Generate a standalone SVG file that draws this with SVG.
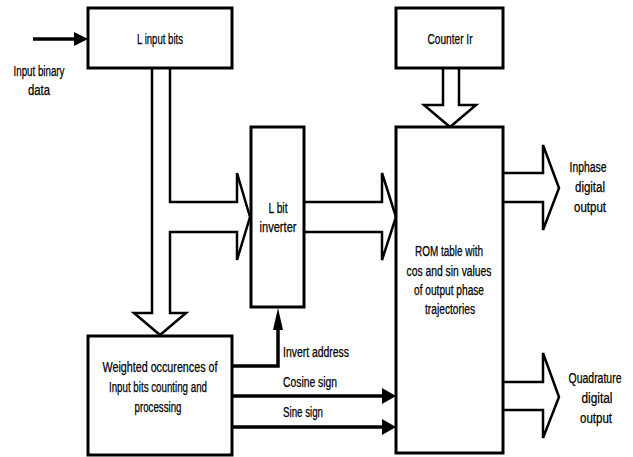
<svg xmlns="http://www.w3.org/2000/svg" width="633" height="457" viewBox="0 0 633 457">
<style>
.box{fill:#fff;stroke:#000;stroke-width:3}
.hol{fill:#fff;stroke:#000;stroke-width:2.5;stroke-linejoin:miter}
.ln{fill:none;stroke:#000;stroke-width:3.5}
.hd{fill:#000;stroke:none}
text{font-family:"Liberation Sans",Arial,sans-serif;font-size:14px;fill:#000;text-anchor:middle;stroke:#000;stroke-width:0.25}
.l{text-anchor:start}
</style>
<rect width="633" height="457" fill="#fff"/>
<g id="connectors">
<polyline class="hol" points="443,68 443,105 424,105 450,127 476,105 459,105 459,68"/>
<polyline class="hol" points="152,68 152,313 134,313 160,335 186,313 170,313 170,232 237,232 237,260 250,217 237,173 237,202 170,202 170,68"/>
<polyline class="hol" points="304,202 382,202 382,173 396,217 382,260 382,232 304,232"/>
<polyline class="hol" points="503,173 543,173 543,145 559,188 543,230 543,202 503,202"/>
<polyline class="hol" points="503,382 543,382 543,353 559,397 543,438 543,410 503,410"/>
<line class="ln" x1="33" y1="39" x2="76" y2="39" stroke-width="4"/>
<polygon class="hd" points="74,32 88,39 74,46"/>
<polyline class="ln" points="232,366 278,366 278,328" stroke-width="3"/>
<polygon class="hd" points="273,330 278,308 283,330"/>
<line class="ln" x1="232" y1="396" x2="384" y2="396"/>
<polygon class="hd" points="382,388 396,396 382,404"/>
<line class="ln" x1="232" y1="427" x2="384" y2="427"/>
<polygon class="hd" points="382,419 396,427 382,435"/>
</g>
<g id="input-label">
<text x="39" y="76" textLength="51" lengthAdjust="spacingAndGlyphs">Input binary</text>
<text x="39" y="95" textLength="22" lengthAdjust="spacingAndGlyphs">data</text>
</g>
<g id="l-input-bits">
<rect class="box" x="88" y="8" width="144" height="60"/>
<text x="160" y="44" textLength="46" lengthAdjust="spacingAndGlyphs">L input bits</text>
</g>
<g id="counter-ir">
<rect class="box" x="396" y="8" width="107" height="60"/>
<text x="450" y="44" textLength="45" lengthAdjust="spacingAndGlyphs">Counter Ir</text>
</g>
<g id="l-bit-inverter">
<rect class="box" x="251" y="127" width="53" height="180"/>
<text x="278" y="213" textLength="19" lengthAdjust="spacingAndGlyphs">L bit</text>
<text x="278" y="232" textLength="37" lengthAdjust="spacingAndGlyphs">inverter</text>
</g>
<g id="rom-table">
<rect class="box" x="396" y="127" width="107" height="326"/>
<text x="449" y="256" textLength="68" lengthAdjust="spacingAndGlyphs">ROM table with</text>
<text x="449" y="276" textLength="85" lengthAdjust="spacingAndGlyphs">cos and sin values</text>
<text x="449" y="295" textLength="70" lengthAdjust="spacingAndGlyphs">of output phase</text>
<text x="450" y="314" textLength="50" lengthAdjust="spacingAndGlyphs">trajectories</text>
</g>
<g id="weighted">
<rect class="box" x="88" y="336" width="144" height="119"/>
<text x="160" y="372" textLength="115" lengthAdjust="spacingAndGlyphs">Weighted occurences of</text>
<text x="158" y="392" textLength="98" lengthAdjust="spacingAndGlyphs">Input bits counting and</text>
<text x="158" y="412" textLength="47" lengthAdjust="spacingAndGlyphs">processing</text>
</g>
<g id="signal-labels">
<text class="l" x="283" y="357" textLength="66" lengthAdjust="spacingAndGlyphs">Invert address</text>
<text class="l" x="283" y="387" textLength="54" lengthAdjust="spacingAndGlyphs">Cosine sign</text>
<text class="l" x="283" y="417" textLength="40" lengthAdjust="spacingAndGlyphs">Sine sign</text>
</g>
<g id="inphase-output">
<text x="588" y="172" textLength="37" lengthAdjust="spacingAndGlyphs">Inphase</text>
<text x="590" y="192" textLength="30" lengthAdjust="spacingAndGlyphs">digital</text>
<text x="590" y="212" textLength="32" lengthAdjust="spacingAndGlyphs">output</text>
</g>
<g id="quadrature-output">
<text x="595" y="383" textLength="53" lengthAdjust="spacingAndGlyphs">Quadrature</text>
<text x="597" y="403" textLength="31" lengthAdjust="spacingAndGlyphs">digital</text>
<text x="596" y="423" textLength="32" lengthAdjust="spacingAndGlyphs">output</text>
</g>
</svg>
